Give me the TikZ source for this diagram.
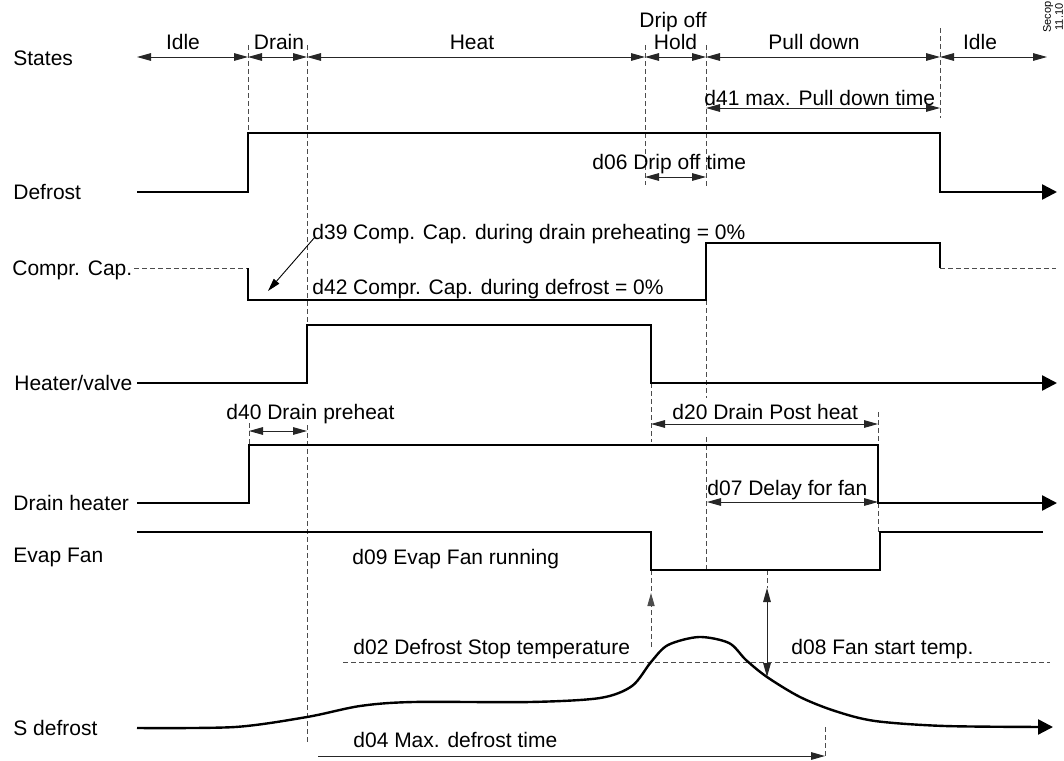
\documentclass[tikz,border=0pt]{standalone}
\usepackage{fontspec}
\setmainfont{Liberation Sans}
\usetikzlibrary{arrows.meta,calc}

\begin{document}
\begin{tikzpicture}[
    x=0.5pt, y=-0.5pt,
    font=\fontsize{10.5}{12.6}\selectfont,
    signal/.style={line width=1.2pt},
    sigout/.style={signal, -{Triangle[length=7.5pt, width=7.5pt]}},
    dimline/.style={{Triangle[length=7pt, width=3.8pt]}-{Triangle[length=7pt, width=3.8pt]}, line width=0.5pt, black!85},
    oneway/.style={-{Triangle[length=7pt, width=3.8pt]}, line width=0.5pt, black!85},
    guide/.style={dash pattern=on 2.5pt off 1.5pt, line width=0.45pt, black!70},
    txt/.style={anchor=base west, inner sep=0pt},
    rowname/.style={anchor=base west, inner sep=0pt},
    statename/.style={anchor=base, inner sep=0pt},
]

\useasboundingbox (0,0) rectangle (1064,760);

% ================== Row names ==================
\node[rowname] (nStates) at (13,65) {States};
\node[rowname] (nDefrost) at (13,199) {Defrost};
\node[rowname] (nCompr) at (12,275) {Compr. Cap.};
\node[rowname] (nHeater) at (14,390) {Heater/valve};
\node[rowname] (nDrain) at (13,510) {Drain heater};
\node[rowname] (nFan) at (13,562) {Evap Fan};
\node[rowname] (nSdef) at (13,735) {S defrost};

% ================== States ==================
\coordinate (t0) at (137,57);
\coordinate (t1) at (248,57);
\coordinate (t2) at (307,57);
\coordinate (t3) at (645,57);
\coordinate (t4) at (706,57);
\coordinate (t5) at (940,57);
\coordinate (t6) at (1047,57);
\foreach \a/\b in {t0/t1, t1/t2, t2/t3, t3/t4, t4/t5, t5/t6}
    \draw[dimline] (\a) -- (\b);

\node[statename] (sIdle) at (183,49.5) {Idle};
\node[statename] (sDrain) at (279,49.5) {Drain};
\node[statename] (sHeat) at (472,49.5) {Heat};
\node[statename] (sDrip) at (673,27.5) {Drip off};
\node[statename] (sHold) at (675.5,49.5) {Hold};
\node[statename] (sPull) at (814,49.5) {Pull down};
\node[statename] (sIdleB) at (980,49.5) {Idle};

\node[rotate=90, align=center, inner sep=0pt, font=\fontsize{5.5}{6}\selectfont] (secop) at (1053,17) {Secop\\11.10};

% ================== Guides ==================
\draw[guide] (248,45) -- (248,133);
\draw[guide] (307,45) -- (307,325);
\draw[guide] (307,425) -- (307,742);
\draw[guide] (645,45) -- (645,185);
\draw[guide] (706,45) -- (706,188);
\draw[guide] (706,300) -- (706,398);
\draw[guide] (706,437) -- (706,570);
\draw[guide] (940,28) -- (940,118);
\draw[guide] (249,423) -- (249,445);
\draw[guide] (651,383) -- (651,442);
\draw[guide] (878,412) -- (878,445);
\draw[guide] (878,503) -- (878,532);
\draw[guide] (651,570) -- (651,592);
\draw[guide] (767,570) -- (767,588);
\draw[guide] (825,727) -- (825,757);
\draw[guide] (343,662) -- (1050,662);

% ================== Signals ==================
\draw[sigout] (137,192) -- (248,192) -- (248,133) -- (940,133) -- (940,192) -- (1057,192);

\draw[guide] (134,268) -- (248,268);
\draw[signal] (248,268) -- (248,300) -- (706,300) -- (706,243) -- (940,243) -- (940,268);
\draw[guide] (940,268) -- (1056,268);

\draw[sigout] (137,383) -- (307,383) -- (307,325) -- (651,325) -- (651,383) -- (1057,383);
\draw[sigout] (137,503) -- (249,503) -- (249,445) -- (878,445) -- (878,503) -- (1057,503);
\draw[signal] (137,532) -- (651,532) -- (651,570) -- (880,570) -- (880,532) -- (1043,532);

\draw[sigout] plot[smooth, tension=0.5] coordinates {(137,728) (235,727) (307,717) (360,706) (413,702) (530,702) (600,698) (632,686) (651,662) (668,645) (699,637) (729,643) (746,660) (767,677) (800,697) (835,711) (875,721) (945,726) (1053,727)};

% ================== Parameters ==================
\node[txt] (p41) at (704,105) {d41 max. Pull down time};
\draw[dimline] (706,108) -- (940,108);

\node[txt] (p06) at (592,169) {d06 Drip off time};
\draw[dimline] (645,177) -- (706,177);

\node[txt] (p39) at (312,239) {d39 Comp. Cap. during drain preheating = 0\%};
\coordinate (p39tip) at (268,291);
\draw[-{Triangle[length=6.5pt, width=3.6pt]}, line width=0.45pt] ($(p39.base west)+(3,-2)$) -- (p39tip);
\node[txt] (p42) at (312,294) {d42 Compr. Cap. during defrost = 0\%};

\node[txt] (p40) at (226,419) {d40 Drain preheat};
\draw[dimline] (249,431) -- (307,431);

\node[txt] (p20) at (672,419) {d20 Drain Post heat};
\draw[dimline] (651,424) -- (878,424);

\node[txt] (p07) at (707,495) {d07 Delay for fan};
\draw[dimline] (707,502) -- (878,502);

\node[txt] (p09) at (352,564) {d09 Evap Fan running};

\node[txt] (p02) at (353,654) {d02 Defrost Stop temperature};
\draw[guide, -{Triangle[length=6.5pt, width=3.6pt]}] (651,647) -- (651,593);

\node[txt] (p08) at (791,654) {d08 Fan start temp.};
\draw[dimline] (767,588) -- (767,677);

\node[txt] (p04) at (353,747) {d04 Max. defrost time};
\draw[oneway] (318,756) -- (825,756);

\end{tikzpicture}
\end{document}
